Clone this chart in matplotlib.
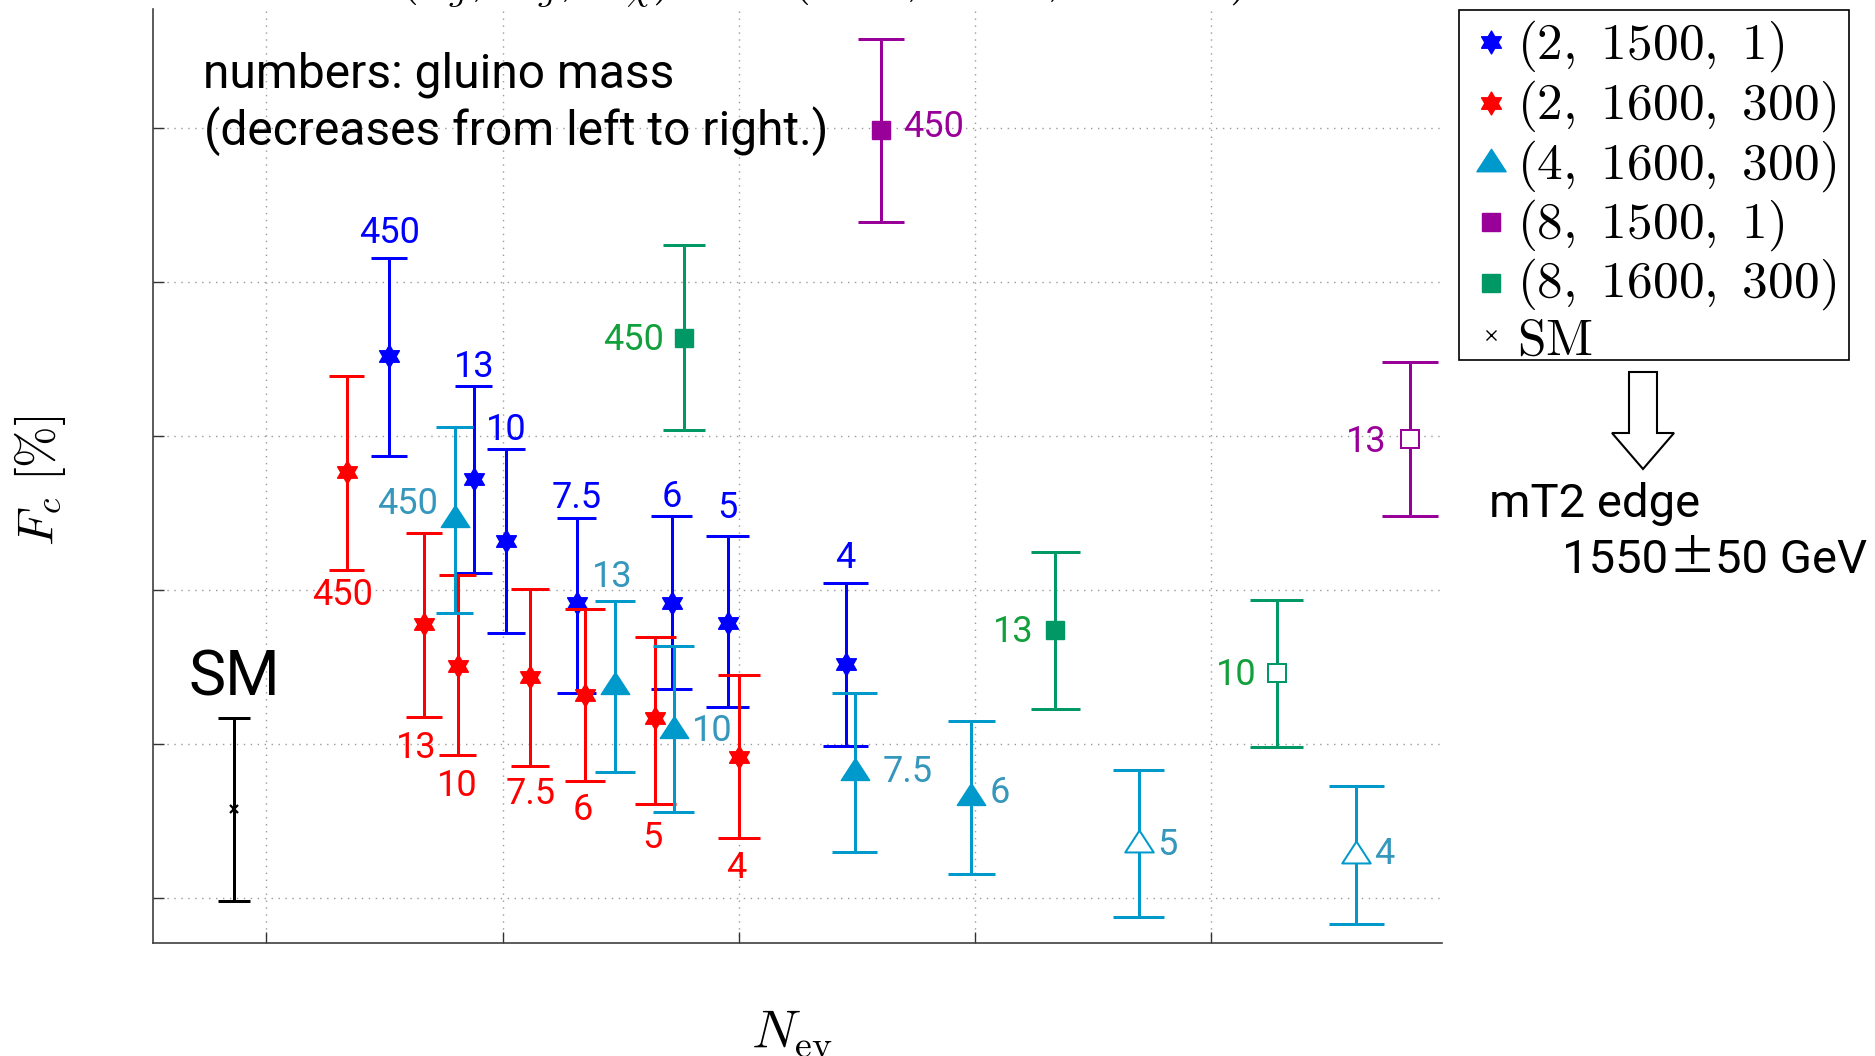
import numpy as np
import matplotlib
matplotlib.use("Agg")
import matplotlib.pyplot as plt
from matplotlib.path import Path
from matplotlib.lines import Line2D
import matplotlib.patches as mpatches

plt.rcParams['mathtext.fontset'] = 'cm'
plt.rcParams['font.family'] = ['Roboto', 'DejaVu Sans']

# ---------------- data ----------------
# (2, 1500, 1)
blue_x = [3760, 3939, 4008, 4157, 4358, 4476, 4726]
blue_y = [45.2, 37.2, 33.2, 29.2, 29.2, 27.9, 25.2]
blue_hi = [51.6, 43.3, 39.2, 34.7, 34.8, 33.5, 30.5]
blue_lo = [38.7, 31.1, 27.2, 23.3, 23.6, 22.4, 19.9]
blue_lab = ["450", "13", "10", "7.5", "6", "5", "4"]

# (2, 1600, 300)
red_x = [3670, 3833, 3905, 4058, 4174, 4323, 4500]
red_y = [37.7, 27.8, 25.1, 24.4, 23.2, 21.7, 19.2]
red_hi = [43.9, 33.7, 31.0, 30.1, 28.8, 27.0, 24.5]
red_lo = [31.3, 21.8, 19.3, 18.6, 17.6, 16.1, 13.9]
red_lab = ["450", "13", "10", "7.5", "6", "5", "4"]

# (4, 1600, 300)
cyan_x = [3899, 4238, 4362, 4745, 4992, 5346, 5807]
cyan_y = [34.8, 24.0, 21.1, 18.4, 16.8, 13.7, 13.0]
cyan_hi = [40.6, 29.3, 26.4, 23.3, 21.5, 18.3, 17.3]
cyan_lo = [28.5, 18.2, 15.6, 13.0, 11.6, 8.8, 8.3]
cyan_lab = ["450", "13", "10", "7.5", "6", "5", "4"]
cyan_open = [False, False, False, False, False, True, True]

# (8, 1500, 1)
purple_x = [4801, 5920]
purple_y = [59.9, 39.8]
purple_hi = [65.8, 44.8]
purple_lo = [53.9, 34.8]
purple_lab = ["450", "13"]
purple_open = [False, True]

# (8, 1600, 300)
green_x = [4384, 5170, 5638]
green_y = [46.4, 27.4, 24.6]
green_hi = [52.4, 32.5, 29.4]
green_lo = [40.4, 22.3, 19.8]
green_lab = ["450", "13", "10"]
green_open = [False, False, True]

# SM
sm_x = [3432]
sm_y = [15.8]
sm_hi = [21.7]
sm_lo = [9.8]

legend_labels = [r"$(2,\ 1500,\ 1)$", r"$(2,\ 1600,\ 300)$", r"$(4,\ 1600,\ 300)$",
                 r"$(8,\ 1500,\ 1)$", r"$(8,\ 1600,\ 300)$", r"$\mathrm{SM}$"]

x_ticks = [3500, 4000, 4500, 5000, 5500]
y_ticks = [10, 20, 30, 40, 50, 60]

# ---------------- styles ----------------
W, H = 1875, 1056
PT = 0.72           # points per pixel at dpi 100
LW = 3 * PT         # error bar line width
CAP = 0.01          # cap half-width as a fraction of x

C_BLUE, C_RED = '#0000FF', '#FF0000'
C_CYAN, C_CYAN_T = '#0099CC', '#3597BC'
C_PURP = '#990099'
C_GREEN, C_GREEN_T = '#009966', '#12A03C'

# six-pointed star marker
ang_out = np.deg2rad(90 + 60 * np.arange(6))
ang_in = np.deg2rad(120 + 60 * np.arange(6))
r_in = 1 / np.sqrt(3)
verts = []
for a, b in zip(ang_out, ang_in):
    verts.append((np.cos(a), np.sin(a)))
    verts.append((r_in * np.cos(b), r_in * np.sin(b)))
verts.append(verts[0])
HEXAGRAM = Path(verts, closed=True)
TRIANGLE = Path([(0, 0.77), (-1, -0.77), (1, -0.77), (0, 0.77)], closed=True)

fig = plt.figure(figsize=(W / 100, H / 100), dpi=100)
ax = fig.add_axes([152.5 / W, 1 - 942.5 / H, (1441.5 - 152.5) / W, (942.5 - 9) / H])
ax.set_xlim(3259, 5987)
ax.set_ylim(7.13, 67.75)
ax.set_xticks(x_ticks)
ax.set_yticks(y_ticks)
ax.set_xticklabels([])
ax.set_yticklabels([])
ax.tick_params(direction='in', length=8, width=1, colors='#333333', top=False, right=False)
ax.grid(True, color='#9a9a9a', linewidth=1, dashes=(1, 4))
for s in ('top', 'right'):
    ax.spines[s].set_visible(False)
for s in ('left', 'bottom'):
    ax.spines[s].set_color('#404040')
    ax.spines[s].set_linewidth(1.2)


def draw_series(xs, ys, his, los, color, marker, ms, mew, opens, z):
    xs = np.asarray(xs, float)
    ax.vlines(xs, los, his, colors=color, lw=LW, zorder=z)
    ax.hlines(his, xs * (1 - CAP), xs * (1 + CAP), colors=color, lw=LW, zorder=z)
    ax.hlines(los, xs * (1 - CAP), xs * (1 + CAP), colors=color, lw=LW, zorder=z)
    for x, y, o in zip(xs, ys, opens):
        ax.plot([x], [y], ls='none', marker=marker, ms=ms,
                mfc='white' if o else color, mec=color,
                mew=(2 * PT if o else mew), zorder=z + 0.5)


def put_labels(xs, ys, his, los, labels, anchors, dxs, dys, has, color, fs=26):
    for x, y, hi, lo, t, an, dx, dy, h in zip(xs, ys, his, los, labels, anchors, dxs, dys, has):
        yy = {'top': hi, 'bottom': lo, 'mid': y}[an]
        ax.annotate(t, (x, yy), xytext=(dx * PT, dy * PT), textcoords='offset points',
                    ha=h, va='baseline', color=color, fontsize=fs, zorder=20)


n = len(blue_x)
draw_series(blue_x, blue_y, blue_hi, blue_lo, C_BLUE, HEXAGRAM, 16.5, 1, [False] * n, 3)
draw_series(red_x, red_y, red_hi, red_lo, C_RED, HEXAGRAM, 16.5, 1, [False] * len(red_x), 4)
draw_series(cyan_x, cyan_y, cyan_hi, cyan_lo, C_CYAN, TRIANGLE, 20.5, 1, cyan_open, 5)
draw_series(purple_x, purple_y, purple_hi, purple_lo, C_PURP, 's', 13.5, 1, purple_open, 6)
draw_series(green_x, green_y, green_hi, green_lo, C_GREEN, 's', 13.5, 1, green_open, 7)
draw_series(sm_x, sm_y, sm_hi, sm_lo, 'black', 'x', 5.5, 1.6, [False], 8)

put_labels(blue_x, blue_y, blue_hi, blue_lo, blue_lab, ['top'] * 7,
           [0] * 7, [15, 9, 9, 10, 9, 18, 15], ['center'] * 7, C_BLUE)
put_labels(red_x, red_y, red_hi, red_lo, red_lab, ['bottom'] * 7,
           [-4, -7, 0, 1, -2, -3, -3], [-35, -41, -41, -38, -39, -44, -40], ['center'] * 7, C_RED)
put_labels(cyan_x, cyan_y, cyan_hi, cyan_lo, cyan_lab,
           ['mid', 'top', 'mid', 'mid', 'mid', 'mid', 'mid'],
           [-17, -3, 18, 28, 18, 19, 18], [2, 14, -14, -13, -9, -14, -12],
           ['right', 'center', 'left', 'left', 'left', 'left', 'left'], C_CYAN_T)
put_labels(purple_x, purple_y, purple_hi, purple_lo, purple_lab, ['mid', 'mid'],
           [22, -23], [-7, -13], ['left', 'right'], C_PURP)
put_labels(green_x, green_y, green_hi, green_lo, green_lab, ['mid'] * 3,
           [-20, -22, -20], [-12, -12, -12], ['right'] * 3, C_GREEN_T)
put_labels(sm_x, sm_y, sm_hi, sm_lo, ["SM"], ['top'], [0], [23], ['center'], 'black', fs=45)

# legend, laid out row by row inside a framed box
leg_markers = [
    dict(marker=HEXAGRAM, ms=16.5, mfc=C_BLUE, mec=C_BLUE, mew=1),
    dict(marker=HEXAGRAM, ms=16.5, mfc=C_RED, mec=C_RED, mew=1),
    dict(marker=TRIANGLE, ms=21, mfc=C_CYAN, mec=C_CYAN, mew=1),
    dict(marker='s', ms=13.5, mfc=C_PURP, mec=C_PURP, mew=1),
    dict(marker='s', ms=13.5, mfc=C_GREEN, mec=C_GREEN, mew=1),
    dict(marker='x', ms=7.5, mfc='black', mec='black', mew=1),
]
leg_box = (1459, 10, 1849, 360)          # left, top, right, bottom in pixels
row_marker_y = [42.3, 103.3, 160, 222.3, 282.7, 335]
row_text_base = [58.3, 118.3, 178.3, 237.7, 296.7, 354.3]
fig.patches.append(mpatches.Rectangle(
    (leg_box[0] / W, 1 - leg_box[3] / H), (leg_box[2] - leg_box[0]) / W,
    (leg_box[3] - leg_box[1]) / H, transform=fig.transFigure,
    facecolor='white', edgecolor='black', lw=1.2, zorder=30))
for st, lab, my, ty in zip(leg_markers, legend_labels, row_marker_y, row_text_base):
    fig.add_artist(Line2D([1491 / W], [1 - my / H], ls='none', transform=fig.transFigure,
                          zorder=31, **st))
    fig.text(1517 / W, 1 - ty / H, lab, fontsize=37, ha='left', va='baseline', zorder=31)

# annotation texts
fig.text(203 / W, 1 - 87.3 / H, "numbers: gluino mass", fontsize=34.5, va='baseline', ha='left')
fig.text(204 / W, 1 - 145 / H, "(decreases from left to right.)", fontsize=34.5,
         va='baseline', ha='left')

fig.text(1489 / W, 1 - 517 / H, "mT2 edge", fontsize=34, va='baseline', ha='left')
fig.canvas.draw()
rend = fig.canvas.get_renderer()
t1 = fig.text(1562 / W, 1 - 573 / H, "1550", fontsize=34, va='baseline', ha='left')
bb1 = t1.get_window_extent(renderer=rend)
t2 = fig.text(bb1.x1 / W, 1 - 573 / H, "\u00b1", fontsize=34, va='baseline', ha='left',
              family=['Noto Sans CJK JP', 'DejaVu Sans'])
bb2 = t2.get_window_extent(renderer=rend)
fig.text(bb2.x1 / W, 1 - 573 / H, "50 GeV", fontsize=34, va='baseline', ha='left')

# hollow arrow pointing to the mT2 note
arrow_px = [(1629, 372), (1657, 372), (1657, 433), (1674, 433), (1643, 469),
            (1612, 433), (1629, 433)]
arrow = mpatches.Polygon([(x / W, 1 - y / H) for x, y in arrow_px], closed=True,
                         facecolor='white', edgecolor='black', lw=1.5,
                         transform=fig.transFigure)
fig.patches.append(arrow)

# axis labels
fig.text(40 / W, 1 - 481 / H, r"$F_c\ [\%]$", rotation=90, fontsize=36, ha='center', va='center')
fig.text(792 / W, 1 - 1047.5 / H, r"$N_{\rm ev}$", fontsize=39, ha='center', va='baseline')

# title (runs off the top edge)
fig.text(822 / W, 1 + 8 / H,
         r"$(n_{\tilde{g}}, m_{\tilde{g}}, m_{\chi})\ \ =\ \ (2\!-\!8,\ 1500,\ 1\!-\!300)$",
         fontsize=37, ha='center', va='baseline')

fig.savefig("out.png", dpi=100)
